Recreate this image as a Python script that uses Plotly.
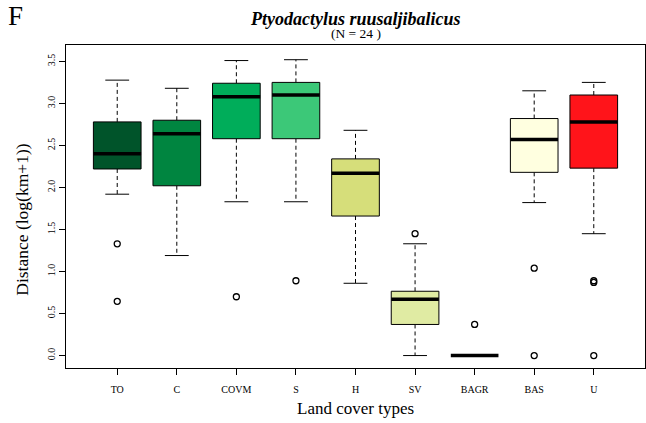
import plotly.graph_objects as go

categories = ["TO", "C", "COVM", "S", "H", "SV", "BAGR", "BAS", "U"]
lower_whisker = [1.92, 1.19, 1.83, 1.83, 0.86, 0.00, 0.00, 1.82, 1.45]
q1 = [2.22, 2.02, 2.58, 2.58, 1.66, 0.37, 0.00, 2.18, 2.23]
median = [2.40, 2.64, 3.08, 3.10, 2.17, 0.67, 0.00, 2.57, 2.78]
q3 = [2.78, 2.80, 3.24, 3.25, 2.34, 0.765, 0.00, 2.82, 3.10]
upper_whisker = [3.277, 3.18, 3.51, 3.52, 2.68, 1.33, 0.00, 3.15, 3.25]
outliers = [[1.33, 0.645], [], [0.70], [0.89], [], [1.45], [0.37], [1.04, 0.0], [0.89, 0.87, 0.0]]
fill_colors = ["#00542A", "#008540", "#00AD5A", "#3CC878", "#D6DE7A",
               "#E0EBA3", "#FFFFFF", "#FFFFE0", "#FF141A"]
y_ticks = [0.0, 0.5, 1.0, 1.5, 2.0, 2.5, 3.0, 3.5]

BOX_HALF = 0.4
CAP_HALF = 0.2
FONT = "Liberation Serif, Times New Roman, serif"

fig = go.Figure()

# whiskers (dashed) and caps
wx, wy, cx, cy = [], [], [], []
for i in range(len(categories)):
    x = i + 1
    wx += [x, x, None, x, x, None]
    wy += [q3[i], upper_whisker[i], None, q1[i], lower_whisker[i], None]
    cx += [x - CAP_HALF, x + CAP_HALF, None, x - CAP_HALF, x + CAP_HALF, None]
    cy += [upper_whisker[i], upper_whisker[i], None, lower_whisker[i], lower_whisker[i], None]
fig.add_trace(go.Scatter(x=wx, y=wy, mode="lines", line=dict(color="black", width=1, dash="4px,3px"),
                         hoverinfo="skip", showlegend=False))
fig.add_trace(go.Scatter(x=cx, y=cy, mode="lines", line=dict(color="black", width=1),
                         hoverinfo="skip", showlegend=False))

# boxes
for i in range(len(categories)):
    x = i + 1
    if q3[i] > q1[i]:
        fig.add_trace(go.Scatter(
            x=[x - BOX_HALF, x + BOX_HALF, x + BOX_HALF, x - BOX_HALF, x - BOX_HALF],
            y=[q1[i], q1[i], q3[i], q3[i], q1[i]],
            mode="lines", fill="toself", fillcolor=fill_colors[i],
            line=dict(color="black", width=1), hoverinfo="skip", showlegend=False))

# medians
mx, my = [], []
for i in range(len(categories)):
    x = i + 1
    mx += [x - BOX_HALF, x + BOX_HALF, None]
    my += [median[i], median[i], None]
fig.add_trace(go.Scatter(x=mx, y=my, mode="lines", line=dict(color="black", width=3.5),
                         hoverinfo="skip", showlegend=False))

# outliers
ox, oy = [], []
for i, vals in enumerate(outliers):
    for v in vals:
        ox.append(i + 1)
        oy.append(v)
fig.add_trace(go.Scatter(x=ox, y=oy, mode="markers",
                         marker=dict(symbol="circle-open", size=6, color="black", line=dict(width=1.3)),
                         hoverinfo="skip", showlegend=False))

fig.update_layout(
    width=646, height=423,
    margin=dict(l=66, r=1, t=45, b=55, pad=0),
    plot_bgcolor="white", paper_bgcolor="white",
    font=dict(family=FONT, color="black"),
    xaxis=dict(range=[0.14, 9.86], tickmode="array", tickvals=list(range(1, len(categories) + 1)),
               ticktext=categories, ticks="outside", ticklen=6, tickcolor="black", tickwidth=1,
               showline=True, mirror=True, linecolor="black", linewidth=1,
               showgrid=False, zeroline=False, tickfont=dict(size=10, family=FONT),
               ticklabelstandoff=6),
    yaxis=dict(range=[-0.148, 3.695], tickmode="array", tickvals=y_ticks,
               ticktext=[f"{v:.1f}" for v in y_ticks], tickangle=-90,
               ticks="outside", ticklen=6, tickcolor="black", tickwidth=1,
               showline=True, mirror=True, linecolor="black", linewidth=1,
               showgrid=False, zeroline=False, tickfont=dict(size=10, family=FONT)),
    annotations=[
        dict(text="<b><i>Ptyodactylus ruusaljibalicus</i></b>", xref="paper", yref="paper",
             x=0.5, y=1.082, xanchor="center", yanchor="middle", showarrow=False,
             font=dict(size=18, family=FONT)),
        dict(text="(N = 24 )", xref="paper", yref="paper",
             x=0.5, y=1.035, xanchor="center", yanchor="middle", showarrow=False,
             font=dict(size=13.5, family=FONT)),
        dict(text="F", xref="paper", yref="paper",
             x=-0.087, y=1.09, xanchor="center", yanchor="middle", showarrow=False,
             font=dict(size=27, family=FONT)),
        dict(text="Land cover types", xref="paper", yref="paper",
             x=0.5, y=-0.125, xanchor="center", yanchor="middle", showarrow=False,
             font=dict(size=17, family=FONT)),
        dict(text="Distance (log(km+1))", xref="paper", yref="paper",
             x=-0.0766, y=0.458, xanchor="center", yanchor="middle", showarrow=False,
             textangle=-90, font=dict(size=17.5, family=FONT)),
    ],
)

fig.write_html("out.html", config={"displayModeBar": False},
               post_script="document.body.style.margin='0';document.body.style.overflow='hidden';")
